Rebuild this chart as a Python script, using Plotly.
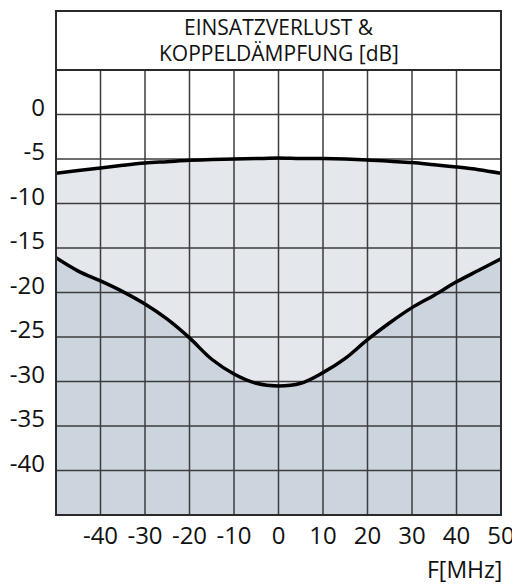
import plotly.graph_objects as go

# Data (frequency offset in MHz, attenuation in dB)
freq = [-50, -45, -40, -35, -30, -25, -20, -15, -10, -5, 0, 5, 10, 15, 20, 25, 30, 35, 40, 45, 50]
insertion_loss = [-6.6, -6.3, -6.0, -5.7, -5.45, -5.3, -5.15, -5.05, -5.0, -4.95, -4.9, -4.95, -4.95, -5.0, -5.1, -5.25, -5.4, -5.65, -5.9, -6.2, -6.6]
coupling_atten = [-16.1, -17.6, -18.7, -19.9, -21.3, -23.0, -25.1, -27.5, -29.15, -30.2, -30.5, -30.2, -29.0, -27.4, -25.3, -23.4, -21.7, -20.3, -18.8, -17.5, -16.2]

x_ticks = [-40, -30, -20, -10, 0, 10, 20, 30, 40, 50]
y_ticks = [0, -5, -10, -15, -20, -25, -30, -35, -40]
x_range = [-50, 50]
y_range = [-45, 5]

title_lines = ["EINSATZVERLUST &", "KOPPELDÄMPFUNG [dB]"]
x_title = "F[MHz]"

FONT = "Open Sans, Lato, sans-serif"
LIGHT = "#e4e7ec"
DARK = "#ccd4de"
GRID = "#3c3c3c"
TEXT = "#111111"

fig = go.Figure()

# baseline for bottom fill
fig.add_trace(go.Scatter(x=freq, y=[y_range[0]] * len(freq), mode="lines",
                         line=dict(width=0), hoverinfo="skip", showlegend=False))
# dark fill under coupling attenuation
fig.add_trace(go.Scatter(x=freq, y=coupling_atten, mode="lines", fill="tonexty",
                         fillcolor=DARK, line=dict(width=0, shape="spline", smoothing=1.0),
                         hoverinfo="skip", showlegend=False))
# light fill between curves
fig.add_trace(go.Scatter(x=freq, y=insertion_loss, mode="lines", fill="tonexty",
                         fillcolor=LIGHT, line=dict(width=0, shape="spline", smoothing=1.0),
                         hoverinfo="skip", showlegend=False))

# grid lines (drawn above the fills)
gx, gy = [], []
for xv in [x_range[0]] + x_ticks:
    gx += [xv, xv, None]
    gy += [y_range[0], y_range[1], None]
for yv in [y_range[1]] + y_ticks:
    gx += [x_range[0], x_range[1], None]
    gy += [yv, yv, None]
fig.add_trace(go.Scatter(x=gx, y=gy, mode="lines", line=dict(color=GRID, width=1.5),
                         hoverinfo="skip", showlegend=False, cliponaxis=False))

# curves
for ys in (insertion_loss, coupling_atten):
    fig.add_trace(go.Scatter(x=freq, y=ys, mode="lines",
                             line=dict(color="black", width=3.5, shape="spline", smoothing=1.0),
                             hoverinfo="skip", showlegend=False))

# the page body adds an 8px offset; the figure is sized to fit inside the window
OFF = 8
W, H = 520 - OFF, 585 - OFF
ml, mr, mt, mb = 56 - OFF, 19, 70 - OFF, 70
plot_h = H - mt - mb
plot_w = W - ml - mr
box_top = 1 + (mt - (11 - OFF)) / plot_h

def py(page_y):
    return 1 + (mt - (page_y - OFF)) / plot_h

fig.update_layout(
    width=W, height=H,
    margin=dict(l=ml, r=mr, t=mt, b=mb, autoexpand=False),
    plot_bgcolor="white", paper_bgcolor="white",
    font=dict(family=FONT, size=24, color=TEXT),
    showlegend=False,
    xaxis=dict(range=x_range, tickvals=x_ticks, ticktext=[str(v) for v in x_ticks],
               showgrid=False, zeroline=False, showline=False, ticks="", automargin=False,
               ticklabelstandoff=4, tickfont=dict(size=24, color=TEXT)),
    yaxis=dict(range=y_range, tickvals=y_ticks, ticktext=[str(v) for v in y_ticks],
               showgrid=False, zeroline=False, showline=False, ticks="", automargin=False,
               ticklabelstandoff=10, ticklabelshift=-7, tickfont=dict(size=24, color=TEXT)),
    shapes=[
        dict(type="rect", xref="paper", yref="paper", x0=0, x1=1, y0=1, y1=box_top,
             line=dict(color="#2a2a2a", width=2), fillcolor="white", layer="above"),
        dict(type="rect", xref="paper", yref="paper", x0=0, x1=1, y0=0, y1=box_top,
             line=dict(color="#2a2a2a", width=2), fillcolor="rgba(0,0,0,0)", layer="above"),
    ],
    annotations=[
        dict(text=title_lines[0], xref="paper", yref="paper", x=0.5, y=py(27),
             showarrow=False, xanchor="center", yanchor="middle", font=dict(size=21, color=TEXT)),
        dict(text=title_lines[1], xref="paper", yref="paper", x=0.5, y=py(53),
             showarrow=False, xanchor="center", yanchor="middle", font=dict(size=21, color=TEXT)),
        dict(text=x_title, xref="paper", yref="paper", x=1 + 3 / plot_w, y=py(569),
             showarrow=False, xanchor="right", yanchor="middle", font=dict(size=23, color=TEXT)),
    ],
)

fig.write_html("out.html")
